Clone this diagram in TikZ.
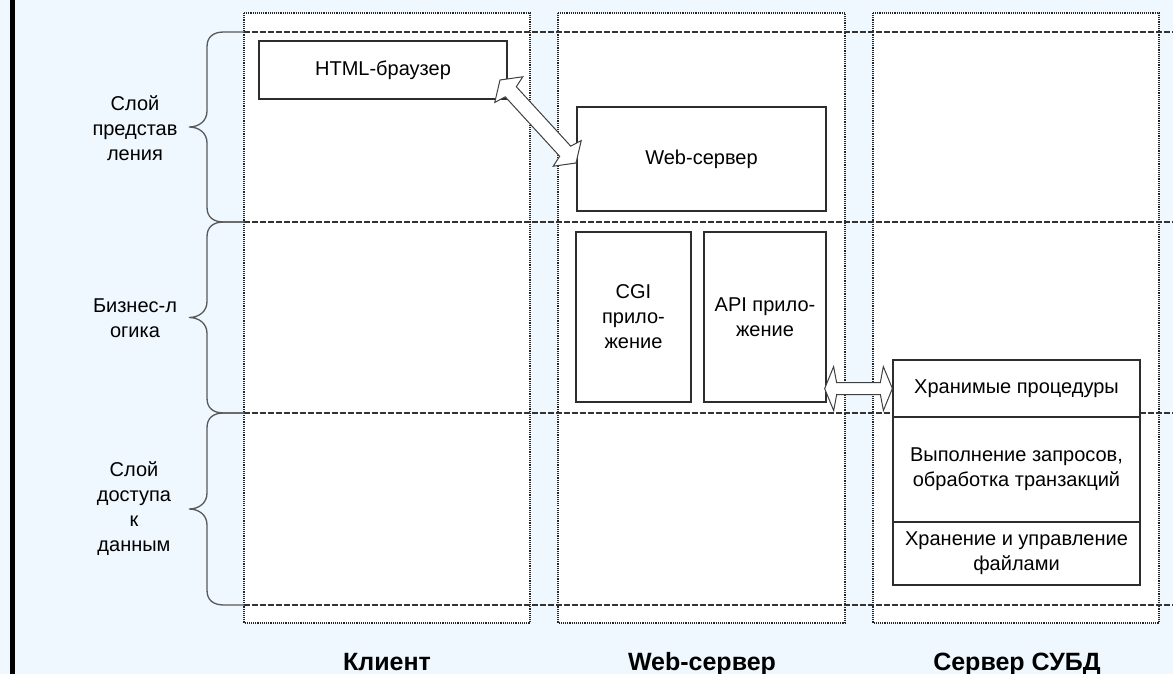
\documentclass[tikz,border=0pt]{standalone}
\usepackage{fontspec}
\setmainfont{Liberation Sans}
\usetikzlibrary{calc}
\definecolor{bg}{RGB}{238,248,254}
\definecolor{ln}{RGB}{45,45,45}
\newcommand\layerbrace[2]{%
  \pgfmathsetmacro\ym{(#1+#2)/2}%
  \draw[brc] (244,#1) -- (224,#1) .. controls (213,#1) and (207,#1+5) .. (207,#1+15)
    -- (207,\ym-16) .. controls (207,\ym-6) and (199,\ym) .. (189,\ym)
    .. controls (199,\ym) and (207,\ym+6) .. (207,\ym+16)
    -- (207,#2-15) .. controls (207,#2-5) and (213,#2) .. (224,#2) -- (244,#2);}
\newcommand\blockarrow[5]{%
  \draw[blk] let \p1=(#1), \p2=(#2), \n1={atan2(\y2-\y1,\x2-\x1)} in
    (\p1) -- ($(\p1)+(\n1:#3)+(\n1+90:#4)$) -- ($(\p1)+(\n1:#3+3pt)+(\n1+90:#5)$)
    -- ($(\p2)+(\n1+180:#3+3pt)+(\n1+90:#5)$) -- ($(\p2)+(\n1+180:#3)+(\n1+90:#4)$)
    -- (\p2) -- ($(\p2)+(\n1+180:#3)+(\n1-90:#4)$) -- ($(\p2)+(\n1+180:#3+3pt)+(\n1-90:#5)$)
    -- ($(\p1)+(\n1:#3+3pt)+(\n1-90:#5)$) -- ($(\p1)+(\n1:#3)+(\n1-90:#4)$) -- cycle;}
\begin{document}
\begin{tikzpicture}[x=1pt,y=-1pt,
  box/.style={draw=ln, line width=1.3pt, fill=white, align=center, inner sep=0pt, font=\fontsize{20}{25}\selectfont},
  col/.style={draw=black!85, line width=1.15pt, densely dotted, fill=white},
  layer/.style={draw=black!80, line width=1.3pt, dash pattern=on 6pt off 2pt},
  brc/.style={draw=black!65, line width=1.3pt},
  lbl/.style={align=center, font=\fontsize{20}{25}\selectfont},
  foot/.style={anchor=base, font=\fontsize{25}{30}\selectfont\bfseries},
  blk/.style={draw=black!75, line width=1pt, fill=white, line join=miter}]
\fill[bg] (0,0) rectangle (1173,674);
\useasboundingbox (0,0) rectangle (1173,674);
\fill[black] (10,0) rectangle (15,674);
% columns
\draw[col] (244,13) rectangle (530,623);
\draw[col] (558,13) rectangle (845,623);
\draw[col] (873,13) rectangle (1159,623);
% layer lines
\foreach \yy in {32,222,413,605} \draw[layer] (244,\yy) -- (1173,\yy);
% braces
\layerbrace{32}{222}
\layerbrace{222}{413}
\layerbrace{413}{605}
% layer labels
\node[lbl] (l1) at (135,128) {Слой\\представ\\ления};
\node[lbl] (l2) at (135,318) {Бизнес-л\\огика};
\node[lbl] (l3) at (134,509) {Слой\\доступа\\к\\данным};
% boxes
\node[box, minimum width=248pt, minimum height=58pt] (html) at (383,70) {HTML-браузер};
\node[box, minimum width=249pt, minimum height=104pt] (web) at (701.5,159) {Web-сервер};
\node[box, minimum width=115pt, minimum height=170pt] (cgi) at (633.5,317) {CGI\\прило-\\жение};
\node[box, minimum width=122pt, minimum height=170pt] (api) at (765,317) {API прило-\\жение};
\node[box, minimum width=247pt, minimum height=57pt] (db1) at (1016.5,388.5) {Хранимые процедуры};
\node[box, minimum width=247pt, minimum height=105pt] (db2) at (1016.5,469.5) {Выполнение запросов,\\обработка транзакций};
\node[box, minimum width=247pt, minimum height=63pt] (db3) at (1016.5,553.5) {Хранение и управление\\файлами};
% arrows
\coordinate (a1) at (500,80);
\coordinate (a2) at (576,163);
\blockarrow{a1}{a2}{13pt}{19pt}{7.5pt}
\coordinate (b1) at ($(api.south east)+(-2,-14)$);
\coordinate (b2) at (db1.west);
\blockarrow{b1}{b2}{9pt}{22pt}{6pt}
% footers
\node[foot] (f1) at (387,670) {Клиент};
\node[foot] (f2) at (702,670) {Web-сервер};
\node[foot] (f3) at (1017,670) {Сервер СУБД};
\end{tikzpicture}
\end{document}
